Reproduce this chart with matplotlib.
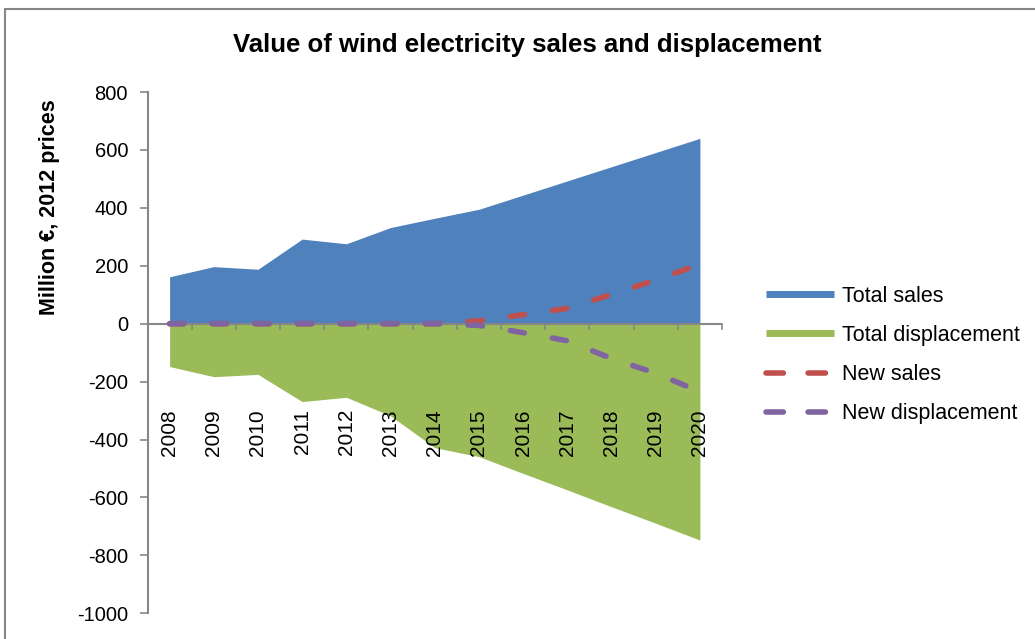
import matplotlib
matplotlib.use("Agg")
import matplotlib.pyplot as plt
from matplotlib.lines import Line2D
from matplotlib.patches import Rectangle

plt.rcParams['font.family'] = ['Liberation Sans', 'DejaVu Sans']
plt.rcParams['lines.scale_dashes'] = False
plt.rcParams['axes.unicode_minus'] = False

# dane (mln EUR, ceny 2012)
years = ['2008', '2009', '2010', '2011', '2012', '2013', '2014',
         '2015', '2016', '2017', '2018', '2019', '2020']
total_sales = [162, 197, 188, 292, 276, 332, 364, 395, 444, 493, 542, 591, 640]
total_displacement = [-148, -183, -175, -269, -254, -318, -428, -459, -517, -574, -632, -689, -747]
new_sales = [0, 0, 0, 0, 0, 0, 0, 10, 31, 53, 101, 151, 205]
new_displacement = [0, 0, 0, 0, 0, 0, 0, -6, -31, -59, -120, -171, -235]

blue = '#4F81BD'
green = '#9BBB59'
red = '#C0504D'
purple = '#8064A2'
grey = '#868686'

fig = plt.figure(figsize=(10.35, 6.39), dpi=100)
W, H = 1035, 639
ax = fig.add_axes([147.5 / W, 1 - 613.3 / H, (722 - 147.5) / W, (613.3 - 92) / H])

x = list(range(len(years)))
ax.fill_between(x, 0, total_sales, color=blue, linewidth=0)
ax.fill_between(x, 0, total_displacement, color=green, linewidth=0)
dash = (0, (10.3, 20.4))
ax.plot(x, new_sales, color=red, linewidth=4, linestyle=dash, dash_capstyle='round', zorder=4)
ax.plot(x, new_displacement, color=purple, linewidth=4, linestyle=dash, dash_capstyle='round', zorder=4)

ax.set_xlim(-0.5, len(years) - 0.5)
ax.set_ylim(-1000, 800)
ax.set_yticks(range(-1000, 801, 200))
ax.tick_params(axis='y', direction='out', length=6, width=1.2, color=grey, labelsize=14.5, pad=8)
for s in ['top', 'right', 'bottom']:
    ax.spines[s].set_visible(False)
ax.spines['left'].set_color(grey)
ax.spines['left'].set_linewidth(1.5)
ax.set_xticks([])

# os X na poziomie zera z kreskami miedzy kategoriami
ax.axhline(0, color=grey, linewidth=1.5, zorder=2)
for b in range(1, len(years) + 1):
    ax.plot([b - 0.5, b - 0.5], [0, -18], color=grey, linewidth=1.2, clip_on=False, zorder=2)
for i, yr in enumerate(years):
    ax.text(i, -295, yr, rotation=90, ha='center', va='top', fontsize=15, zorder=3)

ax.set_ylabel('Million €, 2012 prices', fontsize=15.5, fontweight='bold')
ax.yaxis.set_label_coords(60 / W, 1 - 207 / H, transform=fig.transFigure)

fig.text(527.5 / W, 1 - 45 / H, 'Value of wind electricity sales and displacement',
         ha='center', va='center', fontsize=18.5, fontweight='bold')

leg_dash = (0, (12.5, 17.8))
handles = [Line2D([], [], color=blue, linewidth=5, solid_capstyle='butt'),
           Line2D([], [], color=green, linewidth=5, solid_capstyle='butt'),
           Line2D([], [], color=red, linewidth=4, linestyle=leg_dash, dash_capstyle='round'),
           Line2D([], [], color=purple, linewidth=4, linestyle=leg_dash, dash_capstyle='round')]
labels = ['Total sales', 'Total displacement', 'New sales', 'New displacement']
fig.legend(handles, labels, loc='center left', bbox_to_anchor=(766 / W, 1 - 355 / H),
           frameon=False, fontsize=15.5, handlelength=3.16, handletextpad=0.36,
           labelspacing=0.85, borderpad=0, borderaxespad=0)

# ramka obszaru wykresu
fig.patches.append(Rectangle((5 / W, -0.1), 1.2, 1.1 - 9 / H, transform=fig.transFigure,
                             fill=False, edgecolor=grey, linewidth=1.5))

fig.savefig('out.png', dpi=100)
